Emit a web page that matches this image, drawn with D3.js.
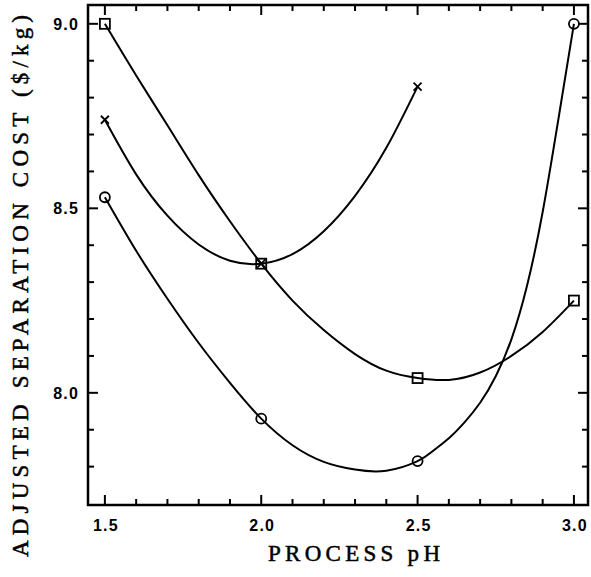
<!DOCTYPE html>
<html><head><meta charset="utf-8">
<script src="https://cdn.jsdelivr.net/npm/d3@7"></script>
<style>html,body{margin:0;padding:0;background:#fff;}</style>
</head><body>
<svg id="c" width="591" height="577"></svg>
<script>
// Measured points (markers)
const squarePts = [[1.5, 9.00], [2.0, 8.35], [2.5, 8.04], [3.0, 8.25]];
const crossPts  = [[1.5, 8.74], [2.0, 8.35], [2.5, 8.83]];
const circlePts = [[1.5, 8.53], [2.0, 7.93], [2.5, 7.815], [3.0, 9.00]];
// Fitted curves
const squareCurve = [[1.5,9.0],[1.6,8.86],[1.7,8.725],[1.8,8.59],[1.9,8.465],[2.0,8.35],[2.1,8.25],[2.2,8.17],[2.3,8.105],[2.4,8.06],[2.5,8.04],[2.6,8.035],[2.7,8.055],[2.8,8.1],[2.9,8.165],[3.0,8.25]];
const crossCurve  = [[1.5,8.74],[1.6,8.592],[1.7,8.48],[1.8,8.402],[1.9,8.358],[2.0,8.35],[2.1,8.376],[2.2,8.438],[2.3,8.534],[2.4,8.664],[2.5,8.83]];
const circleCurve = [[1.5,8.53],[1.6,8.385],[1.7,8.255],[1.8,8.135],[1.9,8.027],[2.0,7.93],[2.1,7.858],[2.2,7.813],[2.3,7.792],[2.4,7.789],[2.5,7.815],[2.55,7.843],[2.6,7.877],[2.65,7.92],[2.7,7.973],[2.75,8.045],[2.8,8.145],[2.85,8.29],[2.9,8.49],[2.95,8.74],[3.0,9.0]];
// Tick labels
const xTickLabels = [1.5, 2.0, 2.5, 3.0];
const yTickLabels = [8.0, 8.5, 9.0];
const xMinor = d3.range(15, 31).map(v => v / 10);
const yMinor = d3.range(78, 91).map(v => v / 10);
const xTitle = "PROCESS pH";
const yTitle = "ADJUSTED SEPARATION COST ($/kg)";

const svg = d3.select("#c");
const L = 88, R = 588, T = 5, B = 505;
const x = d3.scaleLinear().domain([1.446, 3.045]).range([L, R]);
const y = d3.scaleLinear().domain([7.696, 9.051]).range([B, T]);

const g = svg.append("g");
const isMajor = v => xTickLabels.some(t => Math.abs(t - v) < 1e-6);
const isMajorY = v => yTickLabels.some(t => Math.abs(t - v) < 1e-6);

// ticks (inward, all four sides)
const tk = g.append("g").attr("stroke", "#000").attr("stroke-width", 2);
xMinor.forEach(v => {
  const len = isMajor(v) ? 10 : 6;
  tk.append("line").attr("x1", x(v)).attr("x2", x(v)).attr("y1", B).attr("y2", B - len);
  tk.append("line").attr("x1", x(v)).attr("x2", x(v)).attr("y1", T).attr("y2", T + len);
});
yMinor.forEach(v => {
  const len = isMajorY(v) ? 10 : 6;
  tk.append("line").attr("y1", y(v)).attr("y2", y(v)).attr("x1", L).attr("x2", L + len);
  tk.append("line").attr("y1", y(v)).attr("y2", y(v)).attr("x1", R).attr("x2", R - len);
});

// frame
g.append("rect").attr("x", L).attr("y", T).attr("width", R - L).attr("height", B - T)
  .attr("fill", "none").attr("stroke", "#000").attr("stroke-width", 2.5);

// tick labels
const tickFont = "'Liberation Sans', Arial, sans-serif";
g.selectAll(".xl").data(xTickLabels).enter().append("text")
  .attr("x", d => x(d) + 1).attr("y", 531).attr("text-anchor", "middle")
  .attr("font-family", tickFont).attr("font-weight", "bold").attr("font-size", 16).attr("letter-spacing", 1.2)
  .text(d => d.toFixed(1));
g.selectAll(".yl").data(yTickLabels).enter().append("text")
  .attr("x", 79).attr("y", d => y(d) + 6).attr("text-anchor", "end")
  .attr("font-family", tickFont).attr("font-weight", "bold").attr("font-size", 16).attr("letter-spacing", 1.2)
  .text(d => d.toFixed(1));

// titles
const titleFont = "'Liberation Serif', 'Times New Roman', serif";
g.append("text").attr("x", 268).attr("y", 561)
  .attr("font-family", titleFont).attr("font-size", 23)
  .attr("stroke", "#000").attr("stroke-width", 0.5)
  .attr("textLength", 172).attr("lengthAdjust", "spacing")
  .text(xTitle);
g.append("text").attr("transform", "translate(28,557) rotate(-90)")
  .attr("font-family", titleFont).attr("font-size", 23)
  .attr("stroke", "#000").attr("stroke-width", 0.5)
  .attr("textLength", 542).attr("lengthAdjust", "spacing")
  .text(yTitle);

// curves
const line = d3.line().x(d => x(d[0])).y(d => y(d[1])).curve(d3.curveNatural);
[squareCurve, crossCurve, circleCurve].forEach(c => {
  g.append("path").attr("d", line(c)).attr("fill", "none").attr("stroke", "#000").attr("stroke-width", 2);
});

// markers
const mk = g.append("g").attr("fill", "none").attr("stroke", "#000").attr("stroke-width", 1.8);
squarePts.forEach(d => mk.append("rect").attr("x", x(d[0]) - 5).attr("y", y(d[1]) - 5).attr("width", 10).attr("height", 10));
circlePts.forEach(d => mk.append("circle").attr("cx", x(d[0])).attr("cy", y(d[1])).attr("r", 5));
crossPts.forEach(d => {
  const cx = x(d[0]), cy = y(d[1]), s = 4;
  mk.append("path").attr("d", `M${cx - s},${cy - s}L${cx + s},${cy + s}M${cx - s},${cy + s}L${cx + s},${cy - s}`);
});
</script>
</body></html>
